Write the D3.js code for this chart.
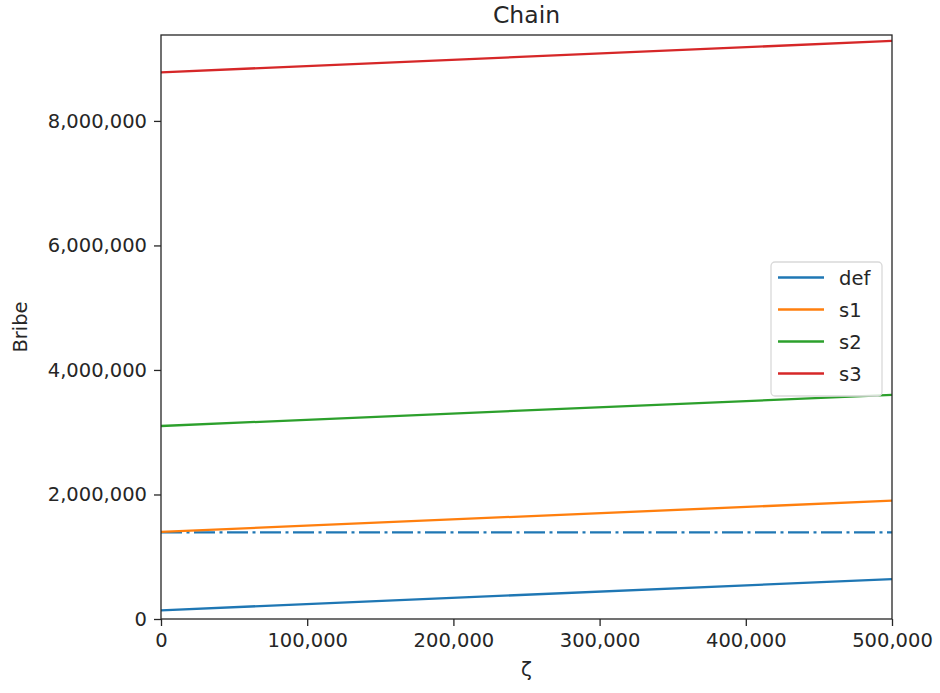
<!DOCTYPE html>
<html>
<head>
<meta charset="utf-8">
<script src="https://cdn.jsdelivr.net/npm/d3@7"></script>
<style>
  body { margin: 0; background: #fff; }
  text { font-family: "DejaVu Sans", sans-serif; fill: #262626; }
</style>
</head>
<body>
<div class="chart"></div>
<script>
// data
var zeta = [0, 500000];
var defVals = [140000, 640000];
var s1Vals = [1400000, 1900000];
var s2Vals = [3100000, 3600000];
var s3Vals = [8780000, 9285000];
var baseLine = [1390000, 1390000];

var names = ["def", "s1", "s2", "s3"];
var colors = ["#1f77b4", "#ff7f0e", "#2ca02c", "#d62728"];
var xTicks = [0, 100000, 200000, 300000, 400000, 500000];
var yTicks = [0, 2000000, 4000000, 6000000, 8000000];

var width = 940, height = 693;
var plotLeft = 161, plotRight = 892, plotTop = 35, plotBottom = 619;

var svg = d3.select(".chart").append("svg")
    .attr("width", width)
    .attr("height", height);

var x = d3.scaleLinear().domain([0, 500000]).range([plotLeft, plotRight]);
var y = d3.scaleLinear().domain([0, 9380000]).range([plotBottom, plotTop]);

var fmt = d3.format(",");

var series = [defVals, s1Vals, s2Vals, s3Vals];

var line = d3.line()
    .x(function (d, i) { return x(zeta[i]); })
    .y(function (d) { return y(d); });

svg.append("defs").append("clipPath").attr("id", "clip")
  .append("rect")
    .attr("x", plotLeft).attr("y", plotTop)
    .attr("width", plotRight - plotLeft).attr("height", plotBottom - plotTop);

var plot = svg.append("g").attr("clip-path", "url(#clip)");

plot.append("path")
    .attr("d", line(baseLine))
    .attr("fill", "none")
    .attr("stroke", colors[0])
    .attr("stroke-width", 2.3)
    .attr("stroke-dasharray", "21,4.5,3,4.5");

plot.selectAll("path.series")
    .data(series)
    .enter()
        .append("path")
        .attr("class", "series")
        .attr("d", function (d) { return line(d); })
        .attr("fill", "none")
        .attr("stroke", function (d, i) { return colors[i]; })
        .attr("stroke-width", 2.3);

// axes
var xAxis = d3.axisBottom(x).tickValues(xTicks).tickFormat(fmt).tickSize(7).tickPadding(7);
var yAxis = d3.axisLeft(y).tickValues(yTicks).tickFormat(fmt).tickSize(7).tickPadding(7);

var gx = svg.append("g").attr("transform", "translate(0," + plotBottom + ")").call(xAxis);
var gy = svg.append("g").attr("transform", "translate(" + plotLeft + ",0)").call(yAxis);

[gx, gy].forEach(function (g) {
  g.select(".domain").remove();
  g.selectAll("line").attr("stroke", "#262626").attr("stroke-width", 1.3);
  g.selectAll("text")
      .attr("font-family", "DejaVu Sans, sans-serif")
      .attr("font-size", 19.5)
      .attr("fill", "#262626");
});

svg.append("rect")
    .attr("x", plotLeft).attr("y", plotTop)
    .attr("width", plotRight - plotLeft).attr("height", plotBottom - plotTop)
    .attr("fill", "none")
    .attr("stroke", "#262626")
    .attr("stroke-width", 1.3);

// titles
svg.append("text")
    .attr("x", (plotLeft + plotRight) / 2)
    .attr("y", 23)
    .attr("text-anchor", "middle")
    .attr("font-size", 23.5)
    .text("Chain");

svg.append("text")
    .attr("x", (plotLeft + plotRight) / 2)
    .attr("y", 676)
    .attr("text-anchor", "middle")
    .attr("font-size", 20)
    .text("ζ");

svg.append("text")
    .attr("transform", "translate(27," + (plotTop + plotBottom) / 2 + ") rotate(-90)")
    .attr("text-anchor", "middle")
    .attr("font-size", 19.5)
    .text("Bribe");

// legend
var legend = svg.append("g");

legend.append("rect")
    .attr("x", 771).attr("y", 262)
    .attr("width", 111).attr("height", 134)
    .attr("rx", 4)
    .attr("fill", "#fff")
    .attr("fill-opacity", 0.8)
    .attr("stroke", "#d9d9d9")
    .attr("stroke-width", 1.3);

var items = legend.selectAll("g.item")
    .data(names)
    .enter()
        .append("g")
        .attr("class", "item")
        .attr("transform", function (d, i) { return "translate(0," + (277.5 + i * 32) + ")"; });

items.append("line")
    .attr("x1", 778).attr("x2", 824)
    .attr("stroke", function (d, i) { return colors[i]; })
    .attr("stroke-width", 2.3);

items.append("text")
    .attr("x", 839)
    .attr("y", 7)
    .attr("font-size", 19.5)
    .text(function (d) { return d; });
</script>
</body>
</html>
